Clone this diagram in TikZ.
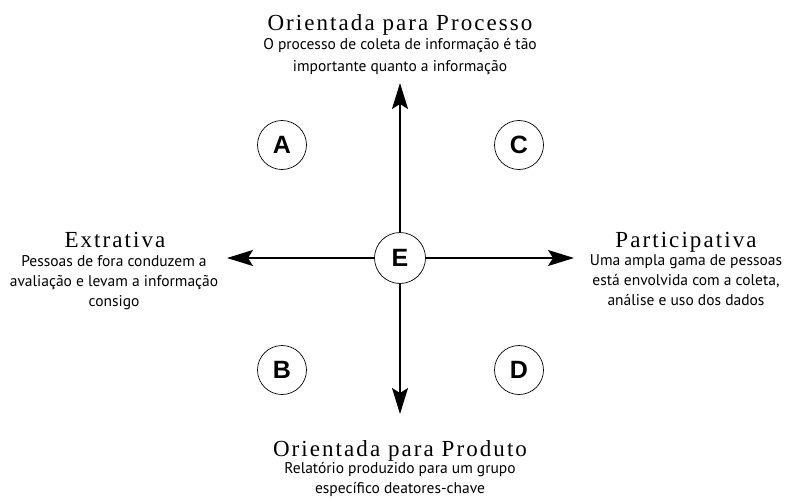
\documentclass[tikz,border=0pt]{standalone}
\usepackage{fontspec}
\setmainfont{Liberation Serif}
\setsansfont{PT Sans}
\newfontfamily\letterfont{Liberation Sans}
\newfontfamily\titlefont[LetterSpace=9]{Liberation Serif}
\usetikzlibrary{arrows.meta}
\begin{document}
\begin{tikzpicture}[x=1pt,y=-1pt,
  quad/.style={circle,draw,line width=0.7pt,minimum size=49pt,inner sep=0pt,font=\letterfont\bfseries\fontsize{25}{25}\selectfont},
  axis/.style={line width=1.5pt,-{Stealth[length=26pt,width=16pt,inset=5pt]}},
  ttl/.style={font=\titlefont\fontsize{23}{25}\selectfont,inner sep=0pt,anchor=base},
  desc/.style={font=\sffamily\fontsize{15.5}{20}\selectfont,align=center,inner sep=0pt,anchor=north}]
\useasboundingbox (0,0) rectangle (789,500);
\node[quad,minimum size=51pt] (E) at (400,258) {E};
\node[quad] (A) at (282,145) {A};
\node[quad] (C) at (519,145) {C};
\node[quad] (B) at (282,370) {B};
\node[quad] (D) at (519,370) {D};
\coordinate (tip-n) at (400,83);
\coordinate (tip-s) at (400,414);
\coordinate (tip-w) at (227,258);
\coordinate (tip-e) at (574,258);
\draw[axis] (E.north) -- (tip-n);
\draw[axis] (E.south) -- (tip-s);
\draw[axis] (E.west) -- (tip-w);
\draw[axis] (E.east) -- (tip-e);
\node[ttl] (tn) at (400,31) {Orientada para Processo};
\node[desc,font=\sffamily\fontsize{15.5}{22}\selectfont] (dn) at (400,38) {O processo de coleta de informação é tão\\importante quanto a informação};
\node[ttl] (tw) at (115,247) {Extrativa};
\node[desc] (dw) at (114,255) {Pessoas de fora conduzem a\\avaliação e levam a informação\\consigo};
\node[ttl] (te) at (686,247) {Participativa};
\node[desc] (de) at (686,254) {Uma ampla gama de pessoas\\está envolvida com a coleta,\\análise e uso dos dados};
\node[ttl] (ts) at (400,456) {Orientada para Produto};
\node[desc] (ds) at (400,462) {Relatório produzido para um grupo\\específico deatores-chave};
\end{tikzpicture}
\end{document}
